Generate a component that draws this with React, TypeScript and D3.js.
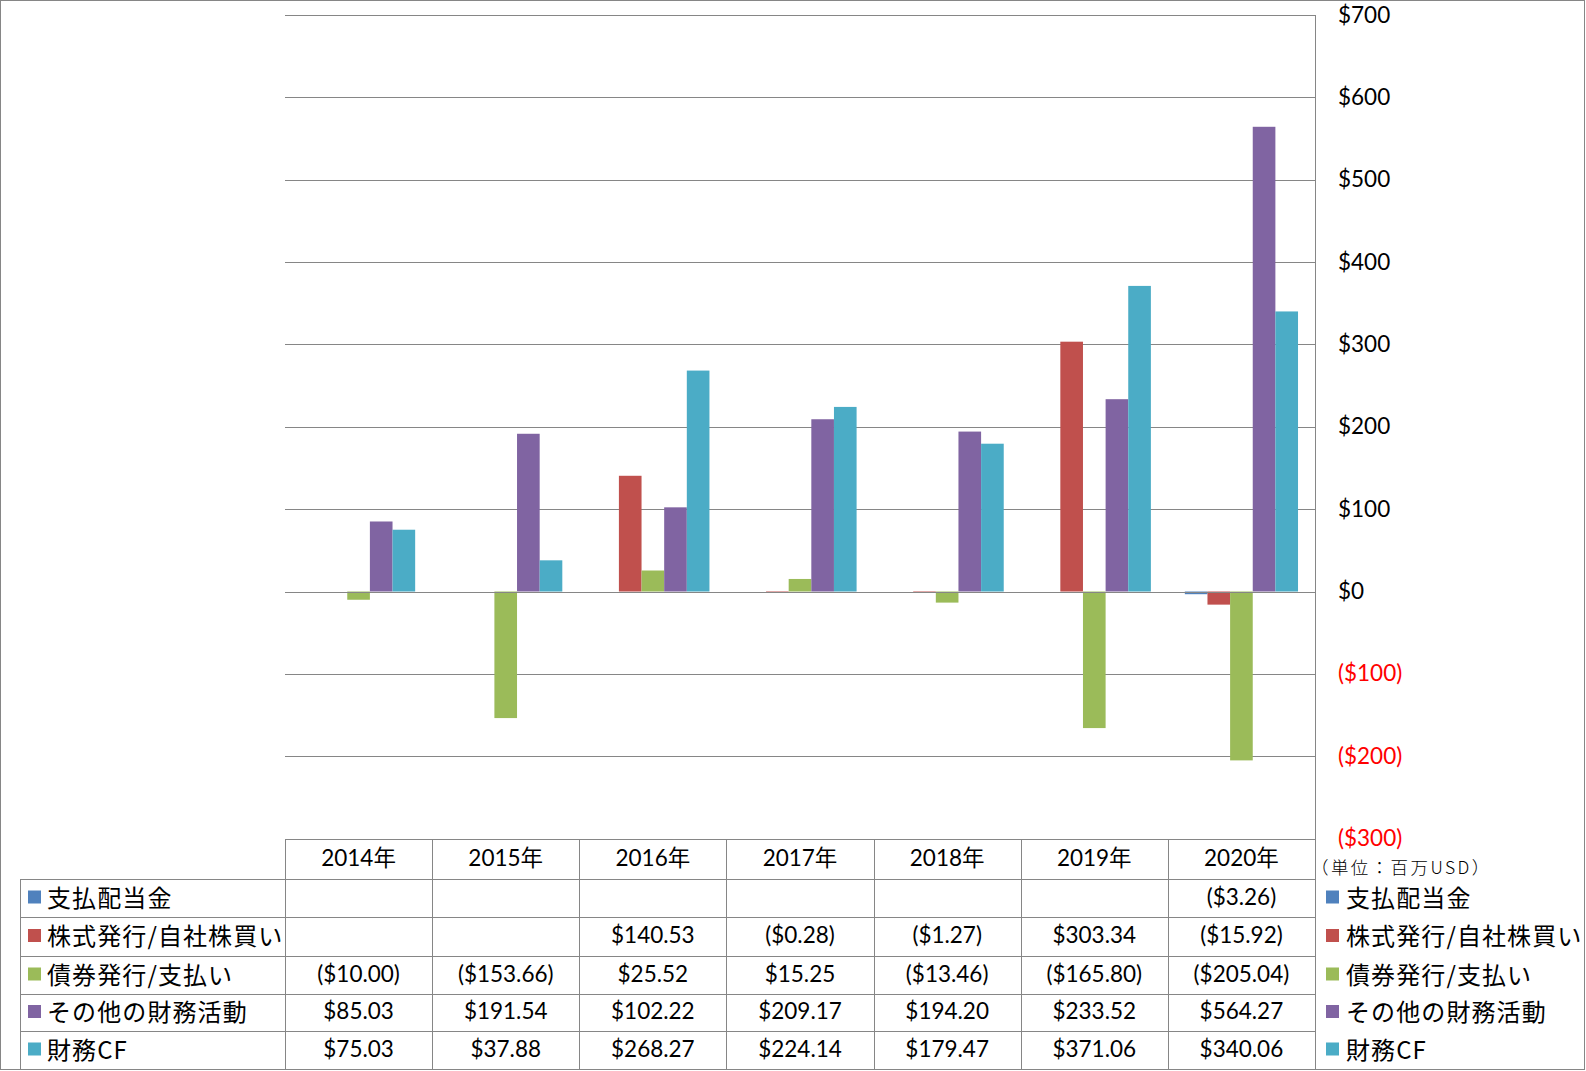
import React from "react";
import * as d3 from "d3";

const categories = ["2014年", "2015年", "2016年", "2017年", "2018年", "2019年", "2020年"];
const seriesNames = ["支払配当金", "株式発行/自社株買い", "債券発行/支払い", "その他の財務活動", "財務CF"];
const seriesColors = ["#4F81BD", "#C0504D", "#9BBB59", "#8064A2", "#4BACC6"];
const dividends: (number | null)[] = [null, null, null, null, null, null, -3.26];
const equity: (number | null)[] = [null, null, 140.53, -0.28, -1.27, 303.34, -15.92];
const debt: (number | null)[] = [-10.0, -153.66, 25.52, 15.25, -13.46, -165.8, -205.04];
const otherFin: (number | null)[] = [85.03, 191.54, 102.22, 209.17, 194.2, 233.52, 564.27];
const finCF: (number | null)[] = [75.03, 37.88, 268.27, 224.14, 179.47, 371.06, 340.06];
const seriesValues = [dividends, equity, debt, otherFin, finCF];
const yTicks = [700, 600, 500, 400, 300, 200, 100, 0, -100, -200, -300];
const unitLabel = "（単位：百万USD）";

const W = 1586;
const H = 1071;
const plotL = 285;
const plotR = 1315;
const plotT = 15;
const plotB = 838.6;
const tableL = 20;
const headerTop = 839;
const rowTops = [879, 917, 956, 994, 1031];
const tableBottom = 1069;

const numFont = "Lato, 'Noto Sans CJK JP', sans-serif";
const jpFont = "'Noto Sans CJK JP', sans-serif";
const grid = "#868686";
const numSize = 22.5;

const fmt = (v: number) => {
  const s = "$" + Math.abs(v).toFixed(2);
  return v < 0 ? `(${s})` : s;
};
const fmtAxis = (v: number) => (v < 0 ? `($${Math.abs(v)})` : `$${v}`);

export default function App() {
  const y = d3.scaleLinear().domain([-300, 700]).range([plotB, plotT]);
  const x0 = d3.scaleBand<string>().domain(categories).range([plotL, plotR]).paddingInner(0).paddingOuter(0);
  const x1 = d3
    .scaleBand<number>()
    .domain(d3.range(seriesNames.length))
    .range([0, x0.bandwidth()])
    .paddingInner(0)
    .paddingOuter(0.75);

  const rowCenters = rowTops.map((t, i) => (t + (i < rowTops.length - 1 ? rowTops[i + 1] : tableBottom)) / 2 - 2);
  const headerCenter = (headerTop + rowTops[0]) / 2 - 2;

  return (
    <svg width={W} height={H} style={{ position: "absolute", left: 0, top: 0, background: "#fff" }}>
      <rect x={0.5} y={0.5} width={W - 2} height={tableBottom} fill="#fff" stroke={grid} strokeWidth={1} />
      {/* gridlines */}
      {yTicks.map((t) => (
        <line key={t} x1={plotL} x2={plotR} y1={Math.round(y(t)) + 0.5} y2={Math.round(y(t)) + 0.5} stroke={grid} strokeWidth={1} />
      ))}
      {/* bars */}
      {seriesValues.map((vals, si) =>
        vals.map((v, ci) =>
          v === null ? null : (
            <rect
              key={`${si}-${ci}`}
              x={(x0(categories[ci]) as number) + (x1(si) as number)}
              width={x1.bandwidth()}
              y={Math.min(y(v), y(0))}
              height={Math.max(Math.abs(y(v) - y(0)), 1)}
              fill={seriesColors[si]}
            />
          )
        )
      )}
      {/* zero line on top */}
      <line x1={plotL} x2={plotR} y1={Math.round(y(0)) + 0.5} y2={Math.round(y(0)) + 0.5} stroke={grid} strokeWidth={1} />
      {/* right axis line */}
      <line x1={plotR + 0.5} x2={plotR + 0.5} y1={plotT} y2={tableBottom} stroke={grid} strokeWidth={1} />
      {/* y tick labels */}
      {yTicks.map((t) => (
        <text
          key={t}
          x={1338}
          y={y(t) - 1}
          dominantBaseline="central"
          fontFamily={numFont}
          fontSize={numSize}
          fill={t < 0 ? "#FF0000" : "#000"}
        >
          {fmtAxis(t)}
        </text>
      ))}
      <text
        x={1311}
        y={866}
        dominantBaseline="central"
        fontFamily={jpFont}
        fontSize={17.5}
        letterSpacing={2.4}
        fontWeight={300}
        fill="#000"
      >
        {unitLabel}
      </text>
      {/* table lines */}
      <line x1={plotL} x2={plotR} y1={headerTop + 0.5} y2={headerTop + 0.5} stroke={grid} />
      {[...rowTops, tableBottom].map((t) => (
        <line key={t} x1={tableL} x2={plotR} y1={t + 0.5} y2={t + 0.5} stroke={grid} />
      ))}
      <line x1={tableL + 0.5} x2={tableL + 0.5} y1={rowTops[0]} y2={tableBottom} stroke={grid} />
      {categories.map((c) => (
        <line
          key={c}
          x1={Math.round(x0(c) as number) + 0.5}
          x2={Math.round(x0(c) as number) + 0.5}
          y1={headerTop}
          y2={tableBottom}
          stroke={grid}
        />
      ))}
      {/* header */}
      {categories.map((c) => (
        <text
          key={c}
          x={(x0(c) as number) + x0.bandwidth() / 2}
          y={headerCenter}
          textAnchor="middle"
          dominantBaseline="central"
          fontFamily={numFont}
          fontSize={numSize}
          fill="#000"
        >
          {c}
        </text>
      ))}
      {/* rows */}
      {seriesNames.map((name, si) => (
        <g key={name}>
          <rect x={28} y={rowCenters[si] - 5.5} width={13} height={13} fill={seriesColors[si]} />
          <text
            x={47}
            y={rowCenters[si]}
            dominantBaseline="central"
            fontFamily={jpFont}
            fontSize={24}
            letterSpacing={1.1}
            fill="#000"
          >
            {name}
          </text>
          {seriesValues[si].map((v, ci) =>
            v === null ? null : (
              <text
                key={ci}
                x={(x0(categories[ci]) as number) + x0.bandwidth() / 2}
                y={rowCenters[si]}
                textAnchor="middle"
                dominantBaseline="central"
                fontFamily={numFont}
                fontSize={numSize}
                fill="#000"
              >
                {fmt(v)}
              </text>
            )
          )}
          <rect x={1326} y={rowCenters[si] - 5.5} width={13} height={13} fill={seriesColors[si]} />
          <text
            x={1346}
            y={rowCenters[si]}
            dominantBaseline="central"
            fontFamily={jpFont}
            fontSize={24}
            letterSpacing={1.1}
            fill="#000"
          >
            {name}
          </text>
        </g>
      ))}
    </svg>
  );
}
